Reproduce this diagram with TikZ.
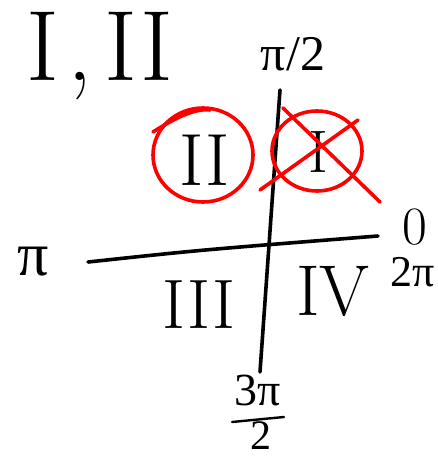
\documentclass[tikz,border=0pt]{standalone}
\usepackage{fontspec}
\newfontfamily\gkfont{Liberation Serif}
\begin{document}
\begin{tikzpicture}[x=1pt,y=-1pt]
\tikzset{
  ink/.style={line width=3.6pt,line cap=round,line join=round,black},
  redink/.style={line width=3.6pt,line cap=round,line join=round,red},
  lbl/.style={inner sep=0pt,outer sep=0pt},
}
\newcommand{\fsz}[1]{\fontsize{#1}{#1}\selectfont}
\useasboundingbox[fill=white] (0,0) rectangle (437,458);
% axes
\coordinate (ytop) at (280,90);
\coordinate (ybot) at (260,372);
\coordinate (xl) at (88,262);
\coordinate (xr) at (378,236);
\draw[ink] (ytop) -- (ybot);
\draw[ink] (xl) .. controls (200,250) .. (xr);
% axis labels
\node[lbl,font=\fsz{50}\gkfont] (halfpi) at (293,54) {π/2};
\node[lbl,font=\fsz{62}\gkfont] (pi) at (33,262) {π};
\node[lbl,font=\fsz{54}] (zero) at (415,227) {0};
\node[lbl,font=\fsz{44}\gkfont] (twopi) at (413,272) {2π};
\node[lbl,font=\fsz{46}\gkfont] (threepi) at (258,390) {3π};
\node[lbl,font=\fsz{42}\gkfont] (two) at (261,436) {2};
\coordinate (barl) at (232,422);
\coordinate (barr) at (284,417);
\draw[line width=2.4pt,line cap=round] (barl) -- (barr);
% title
\node[lbl,font=\fsz{100}] (title) at (100,56) {I\kern8pt,\kern12pt II};
% quadrant numerals
\node[lbl,font=\fsz{74}] (q2) at (205,160) {II};
\node[lbl,font=\fsz{60}] (q1) at (318,152) {I};
\node[lbl,font=\fsz{70}] (q3) at (199,305) {III};
\node[lbl,font=\fsz{72}] (q4) at (333,291) {IV};
% red marks
\draw[redink] (203,155) ellipse [x radius=50, y radius=47];
\draw[redink] (153,132) .. controls (175,118) and (195,108) .. (210,110);
\draw[redink] (317,151) ellipse [x radius=45, y radius=40];
\draw[redink] (283,108) -- (380,202);
\draw[redink] (260,190) -- (358,120);
\end{tikzpicture}
\end{document}
